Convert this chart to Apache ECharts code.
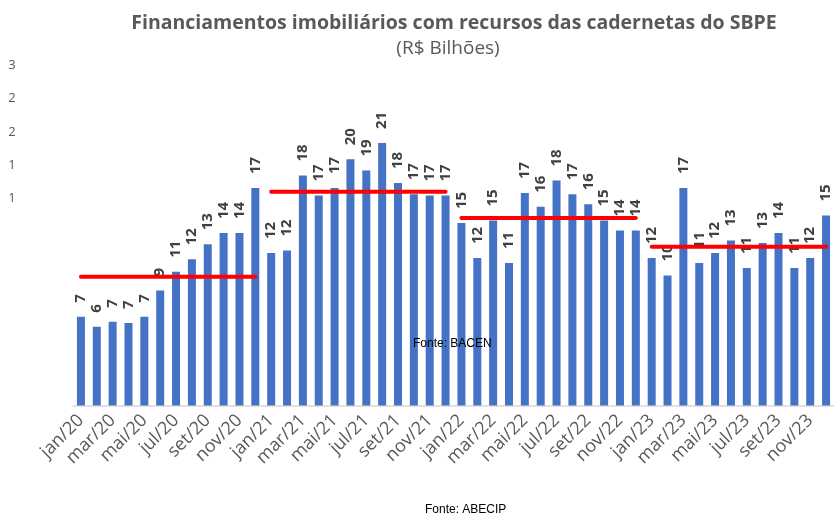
<!DOCTYPE html>
<html>
<head>
<meta charset="utf-8">
<script src="https://cdn.jsdelivr.net/npm/echarts@6/dist/echarts.min.js"></script>
<style>
    html, body { margin: 0; padding: 0; background: #fff; }
    #grafico { width: 834px; height: 518px; }
</style>
</head>
<body>
<div id="grafico"></div>
<script>
// meses e anos do eixo x
var meses = ['jan', 'fev', 'mar', 'abr', 'mai', 'jun', 'jul', 'ago', 'set', 'out', 'nov', 'dez'];
var anos = ['20', '21', '22', '23'];

// valores mensais (R$ bilhões)
var valores2020 = [7.1, 6.3, 6.7, 6.6, 7.1, 9.2, 10.7, 11.7, 12.9, 13.8, 13.8, 17.4];
var valores2021 = [12.2, 12.4, 18.4, 16.8, 17.4, 19.7, 18.8, 21.0, 17.8, 16.9, 16.8, 16.8];
var valores2022 = [14.6, 11.8, 14.8, 11.4, 17.0, 15.9, 18.0, 16.9, 16.1, 14.8, 14.0, 14.0];
var valores2023 = [11.8, 10.4, 17.4, 11.4, 12.2, 13.2, 11.0, 13.0, 13.8, 11.0, 11.8, 15.2];

// média de cada ano (linhas vermelhas)
var mediaAnual = [10.3, 17.1, 15.0, 12.7];

var categorias = [];
anos.forEach(function (a) {
    meses.forEach(function (m) {
        categorias.push(m + '/' + a);
    });
});
var valores = valores2020.concat(valores2021, valores2022, valores2023);

// uma série de linha por ano
var seriesMedia = mediaAnual.map(function (media, k) {
    var dados = categorias.map(function (c, i) {
        return Math.floor(i / 12) === k ? media : '-';
    });
    return {
        type: 'line',
        data: dados,
        symbol: 'none',
        silent: true,
        z: 3,
        lineStyle: { color: '#ff0000', width: 4, cap: 'round' }
    };
});

var myChart = echarts.init(document.getElementById('grafico'));
var option = {
    animation: false,
    textStyle: { fontFamily: 'Open Sans' },
    title: [
        {
            text: 'Financiamentos imobiliários com recursos das cadernetas do SBPE',
            left: 449, top: 8, textAlign: 'center',
            textStyle: { fontSize: 19.5, fontWeight: 'bold', color: '#595959', fontFamily: 'Open Sans' }
        },
        {
            text: '(R$ Bilhões)',
            left: 443, top: 34, textAlign: 'center',
            textStyle: { fontSize: 19, fontWeight: 'normal', color: '#595959', fontFamily: 'Open Sans' }
        }
    ],
    grid: [
        { left: 73, right: -4, top: 30.5, bottom: 112.5 },
        { left: 31, width: 10, top: 65, bottom: 252.5 }
    ],
    xAxis: [
        {
            type: 'category',
            gridIndex: 0,
            data: categorias,
            axisTick: { show: false },
            axisLine: { lineStyle: { color: '#d9d9d9', width: 1.5 } },
            axisLabel: {
                interval: 1,
                rotate: 45,
                margin: 12,
                fontSize: 18,
                color: '#595959'
            }
        },
        { type: 'category', gridIndex: 1, show: false, data: ['a'] }
    ],
    yAxis: [
        { type: 'value', gridIndex: 0, min: 0, max: 30, show: false },
        {
            type: 'value', gridIndex: 1, min: 0, max: 30, interval: 5,
            axisLine: { show: false },
            axisTick: { show: false },
            splitLine: { show: false },
            axisLabel: {
                margin: 8,
                fontSize: 13,
                color: '#595959',
                formatter: function (v) { return v === 0 ? '' : String(v); }
            }
        }
    ],
    series: [
        {
            type: 'bar',
            data: valores,
            barWidth: 8,
            itemStyle: { color: '#4472c4' },
            label: {
                show: true,
                position: 'top',
                rotate: 90,
                align: 'left',
                verticalAlign: 'middle',
                distance: 14,
                fontSize: 15,
                fontWeight: 'bold',
                color: '#404040',
                formatter: function (p) { return Math.round(p.value); }
            }
        }
    ].concat(seriesMedia),
    graphic: [
        {
            type: 'rect', z: 100,
            shape: { x: 16, y: 50, width: 40, height: 200 },
            style: { fill: '#ffffff' }
        },
        {
            type: 'text', left: 413, top: 338, z: 100,
            style: { text: 'Fonte: BACEN', font: '12px "Liberation Sans"', fill: '#000000' }
        },
        {
            type: 'text', left: 425, top: 504, z: 100,
            style: { text: 'Fonte: ABECIP', font: '12px "Liberation Sans"', fill: '#000000' }
        }
    ]
};
myChart.setOption(option);
window.addEventListener('resize', function () {
    myChart.resize();
});
</script>
</body>
</html>
